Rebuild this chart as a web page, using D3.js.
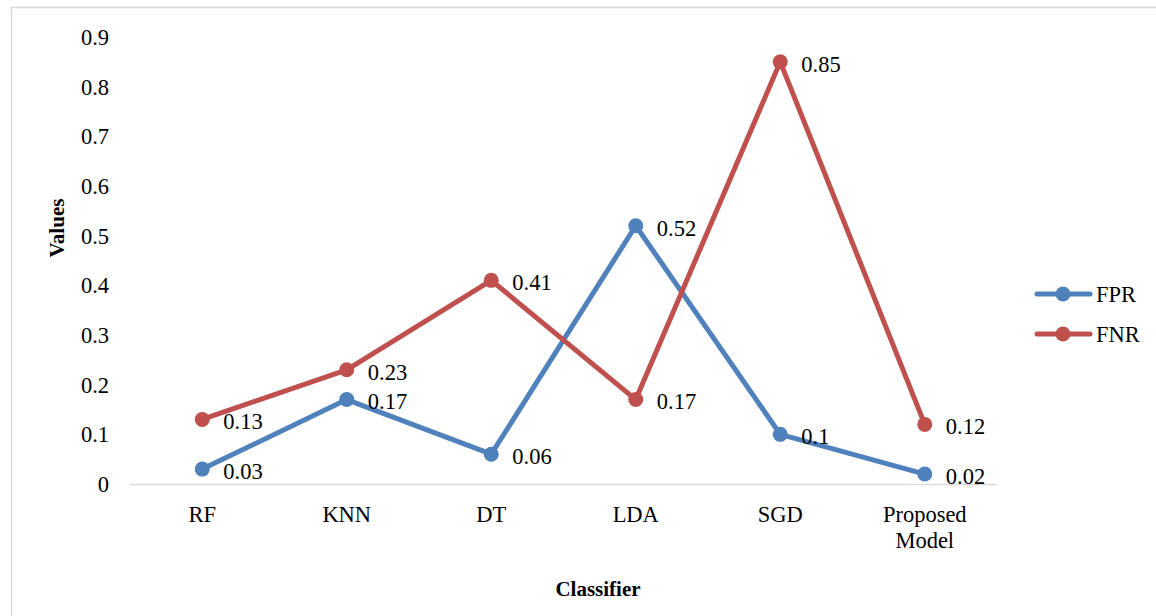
<!DOCTYPE html>
<html><head><meta charset="utf-8">
<script src="https://cdn.jsdelivr.net/npm/d3@7"></script>
<style>body{margin:0;background:#fff;} svg{display:block;}</style>
</head><body><svg id="c" width="1156" height="616"></svg>
<script>
const categories = ["RF","KNN","DT","LDA","SGD","Proposed Model"];
const fpr = [0.03,0.17,0.06,0.52,0.1,0.02];
const fnr = [0.13,0.23,0.41,0.17,0.85,0.12];
const yTicks = [0,0.1,0.2,0.3,0.4,0.5,0.6,0.7,0.8,0.9];
const seriesNames = ["FPR","FNR"];
const colors = ["#4F81BD","#C0504D"];

const FONT = '"Liberation Serif"';
const FS = "22.5px";
const svg = d3.select("#c").style("font-family",FONT);
svg.append("rect").attr("x",11.5).attr("y",7.5).attr("width",1160).attr("height",620)
  .attr("fill","none").attr("stroke","#d9d9d9").attr("stroke-width",1.5);

const x = d3.scaleBand().domain(categories).range([130,997]);
const y = d3.scaleLinear().domain([0,0.9]).range([484,37]);

svg.append("g").selectAll("text").data(yTicks).join("text")
  .attr("x",109).attr("y",d=>y(d)).attr("dy","0.35em").attr("text-anchor","end")
  .style("font-family",FONT).style("font-size",FS).attr("fill","#000")
  .text(d=>d3.format("")(d));

svg.append("line").attr("x1",130).attr("x2",997).attr("y1",484.5).attr("y2",484.5)
  .attr("stroke","#d9d9d9").attr("stroke-width",1.5);

const cl = svg.append("g").selectAll("text").data(categories).join("text")
  .style("font-family",FONT).style("font-size",FS).attr("text-anchor","middle").attr("fill","#000");
cl.each(function(d){
  const words = d.split(" ");
  const t = d3.select(this);
  words.forEach((w,i)=>{
    t.append("tspan").attr("x",x(d)+x.bandwidth()/2).attr("y",522+i*26).text(w);
  });
});

svg.append("text").attr("transform","translate(64,228) rotate(-90)").attr("text-anchor","middle")
  .style("font-family",FONT).style("font-size","21px").style("font-weight","bold").text("Values");
svg.append("text").attr("x",598).attr("y",596).attr("text-anchor","middle")
  .style("font-family",FONT).style("font-size","21px").style("font-weight","bold").text("Classifier");

const cx = d => x(d)+x.bandwidth()/2;
const data = [fpr,fnr];
const line = d3.line().x((d,i)=>cx(categories[i])).y(d=>y(d));
data.forEach((vals,s)=>{
  const g = svg.append("g");
  g.append("path").datum(vals).attr("d",line).attr("fill","none")
    .attr("stroke",colors[s]).attr("stroke-width",5).attr("stroke-linejoin","round");
  g.selectAll("circle").data(vals).join("circle")
    .attr("cx",(d,i)=>cx(categories[i])).attr("cy",d=>y(d)).attr("r",7.5).attr("fill",colors[s]);
  g.selectAll("text").data(vals).join("text")
    .attr("x",(d,i)=>cx(categories[i])+21).attr("y",d=>y(d)+2).attr("dy","0.35em")
    .style("font-family",FONT).style("font-size",FS).attr("fill","#000")
    .text(d=>d3.format("")(d));
});

seriesNames.forEach((n,i)=>{
  const ly = 294+i*40;
  const g = svg.append("g");
  g.append("line").attr("x1",1037).attr("x2",1090).attr("y1",ly).attr("y2",ly)
    .attr("stroke",colors[i]).attr("stroke-width",5).attr("stroke-linecap","round");
  g.append("circle").attr("cx",1063).attr("cy",ly).attr("r",7.5).attr("fill",colors[i]);
  g.append("text").attr("x",1096).attr("y",ly).attr("dy","0.35em")
    .style("font-family",FONT).style("font-size",FS).text(n);
});
</script></body></html>
